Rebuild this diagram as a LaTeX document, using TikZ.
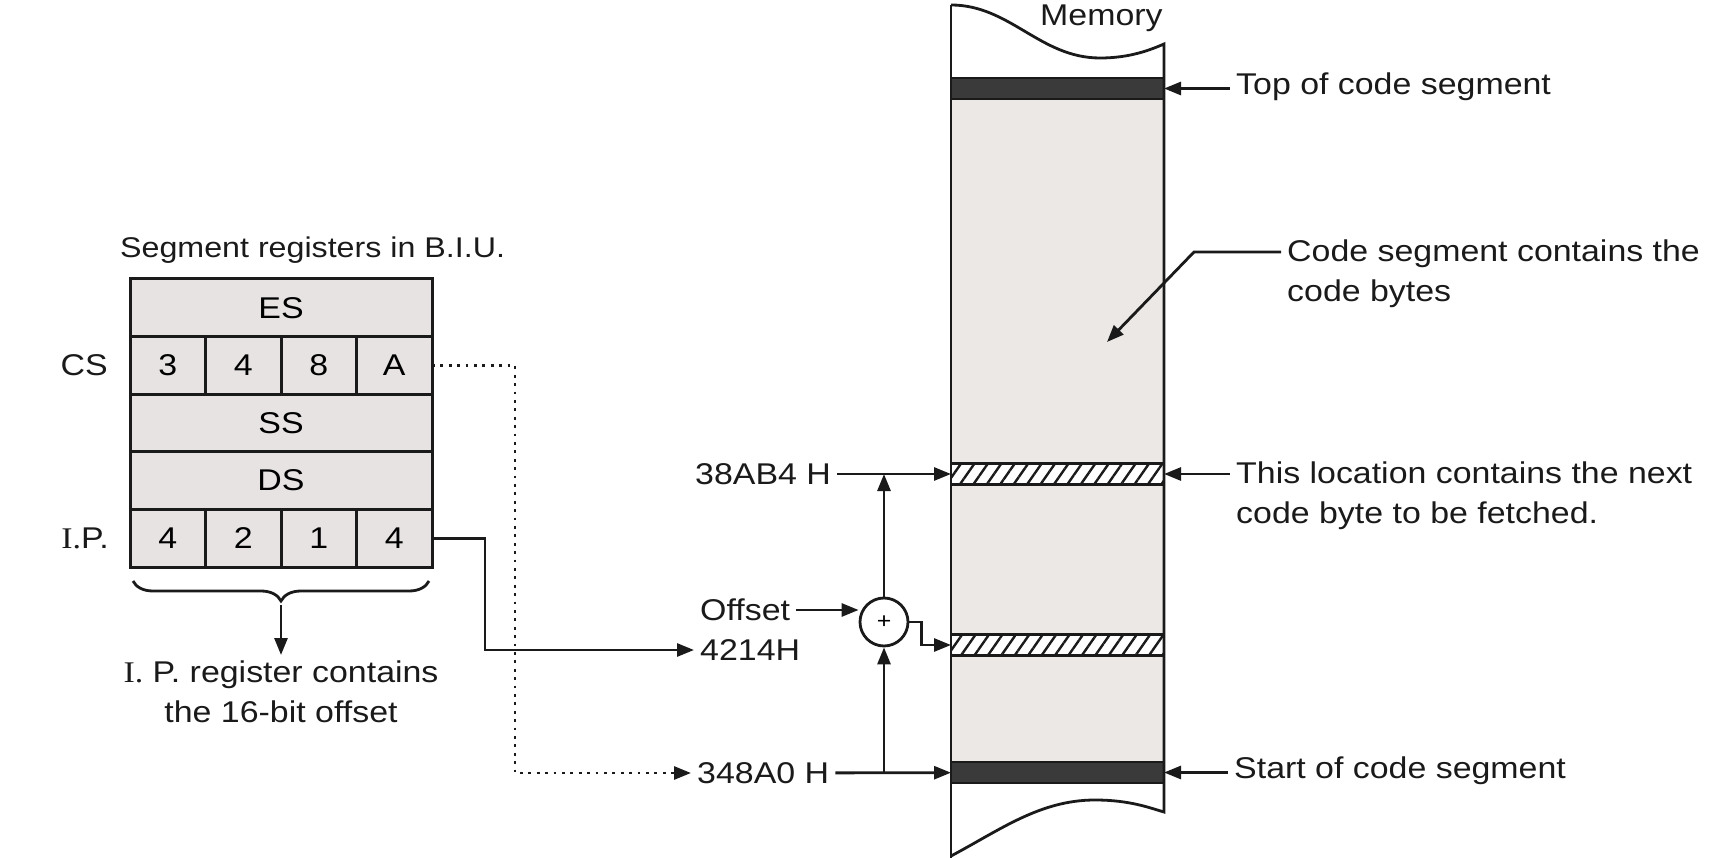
\documentclass[tikz,border=0pt]{standalone}
\usepackage{fontspec}
\setmainfont[FakeStretch=1.13]{Liberation Sans}
\newfontfamily\romfont[FakeStretch=1.13]{Liberation Serif}
\usetikzlibrary{arrows.meta,positioning,calc,decorations.pathreplacing,patterns.meta}
\definecolor{tinta}{HTML}{1A1A1A}
\definecolor{celda}{HTML}{E8E3E3}
\definecolor{memfill}{HTML}{ECE8E5}
\definecolor{banda}{HTML}{3A3A3A}
\begin{document}
\begin{tikzpicture}[x=1pt,y=-1pt,
  font=\fontsize{30}{40}\selectfont,
  regcell/.style={
    draw=tinta, fill=celda, line width=3pt, anchor=north west,
    minimum width=75.5pt, minimum height=57.6pt, inner sep=0pt, outer sep=0pt
  },
  regrow/.style={regcell, minimum width=302pt},
  lbl/.style={inner sep=6pt, text=tinta},
  arr/.style={-{Triangle[length=17pt,width=13pt]}, line width=2.8pt, draw=tinta},
  dotarr/.style={arr, dash pattern=on 2.8pt off 5.6pt},
  memband/.style={
    draw=tinta, line width=2.8pt, minimum width=213pt,
    minimum height=21pt, inner sep=0pt, outer sep=0pt
  },
  hatchband/.style={
    memband, preaction={fill=white},
    pattern={Lines[angle=55,distance=11pt,line width=2.4pt]}, pattern color=tinta
  }
]
  \useasboundingbox (0,0) rectangle (1716,858);
  \node[regrow] (es) at (130,279) {ES};
  \foreach \d [count=\i] in {3,4,8,A}
    \node[regcell] (cs\i) at ($(es.south west)+({(\i-1)*75.5},0)$) {\d};
  \node[regrow] (ss) at (cs1.south west) {SS};
  \node[regrow] (ds) at (ss.south west) {DS};
  \foreach \d [count=\i] in {4,2,1,4}
    \node[regcell] (ip\i) at ($(ds.south west)+({(\i-1)*75.5},0)$) {\d};
  \node[lbl, left=16pt of cs1] (cslbl) {CS};
  \node[lbl, left=15pt of ip1] (iplbl) {{\romfont I.}P.};
  \node[lbl, anchor=base west, font=\fontsize{28.5}{36}\selectfont] (titulo) at (114,258)
    {Segment registers in B.I.U.};
  \draw[line width=2.8pt, tinta, decorate, decoration={brace, mirror, amplitude=20pt}]
    ($(ip1.south west)+(3,14)$) -- ($(ip4.south east)+(-3,14)$);
  \coordinate (bracetip) at ($(ip1.south west)!0.5!(ip4.south east)+(0,38)$);
  \node[lbl, align=center, anchor=north] (ipnote) at ($(bracetip)+(0,50)$)
    {{\romfont I.} P. register contains\\the 16-bit offset};
  \draw[arr] (bracetip) -- (ipnote);

  \fill[memfill] (951,100) rectangle (1164,762);
  \node[memband, fill=banda] (topband) at (1057.5,88.5) {};
  \node[memband, fill=banda] (startband) at (1057.5,772.5) {};
  \node[hatchband] (hatchA) at (1057.5,474) {};
  \node[hatchband] (hatchB) at (1057.5,645) {};
  \draw[line width=2.8pt, tinta] (951,5) .. controls (1010,5) and (1040,58) .. (1100,58)
    .. controls (1130,58) and (1150,50) .. (1164,44) -- (1164,812)
    .. controls (1150,808) and (1130,800) .. (1095,800)
    .. controls (1040,800) and (1000,830) .. (951,856);
  \draw[line width=2.8pt, tinta] (951,5) -- (951,858);
  \node[lbl, anchor=west] (memlbl) at (1034,18) {Memory};

  \node[lbl, anchor=west] (next) at (689,474) {38AB4 H};
  \node[lbl, anchor=west] (offlbl) at (694,610) {Offset};
  \node[lbl, anchor=west] (offs) at (694,650) {4214H};
  \node[lbl, anchor=west] (base) at (691,773) {348A0 H};
  \node[circle, draw=tinta, line width=2.8pt, minimum size=48pt, inner sep=0pt,
    font=\fontsize{22}{22}\selectfont] (adder) at (884,622) {+};

  \draw[dotarr] (cs4.east) -- ++(83,0) |- (base);
  \draw[arr] (ip4.east) -- ++(53,0) |- (offs);
  \draw[arr] (offlbl) -- (offlbl -| adder.west);
  \draw[arr] (base) -- (startband);
  \draw[arr] (next) -- (hatchA);
  \draw[arr] (base -| adder) -- (adder);
  \draw[arr] (adder) -- (next -| adder);
  \draw[arr] (adder.east) -- ++(12,0) |- (hatchB);

  \node[lbl, anchor=west] (toplbl) at (1230,87) {Top of code segment};
  \node[lbl, anchor=north west, align=left] (codelbl) at (1281,233.5)
    {Code segment contains the\\code bytes};
  \node[lbl, anchor=north west, align=left] (nextlbl) at (1230,456)
    {This location contains the next\\code byte to be fetched.};
  \node[lbl, anchor=west] (startlbl) at (1228,771) {Start of code segment};
  \coordinate (codetip) at (1107,342);
  \draw[arr] (toplbl.west |- topband) -- (topband);
  \draw[arr] ($(codelbl.north west)+(0,18.5)$) -- ++(-87,0) -- (codetip);
  \draw[arr] (nextlbl.west |- hatchA) -- (hatchA);
  \draw[arr] (startlbl.west |- startband) -- (startband);
\end{tikzpicture}
\end{document}
